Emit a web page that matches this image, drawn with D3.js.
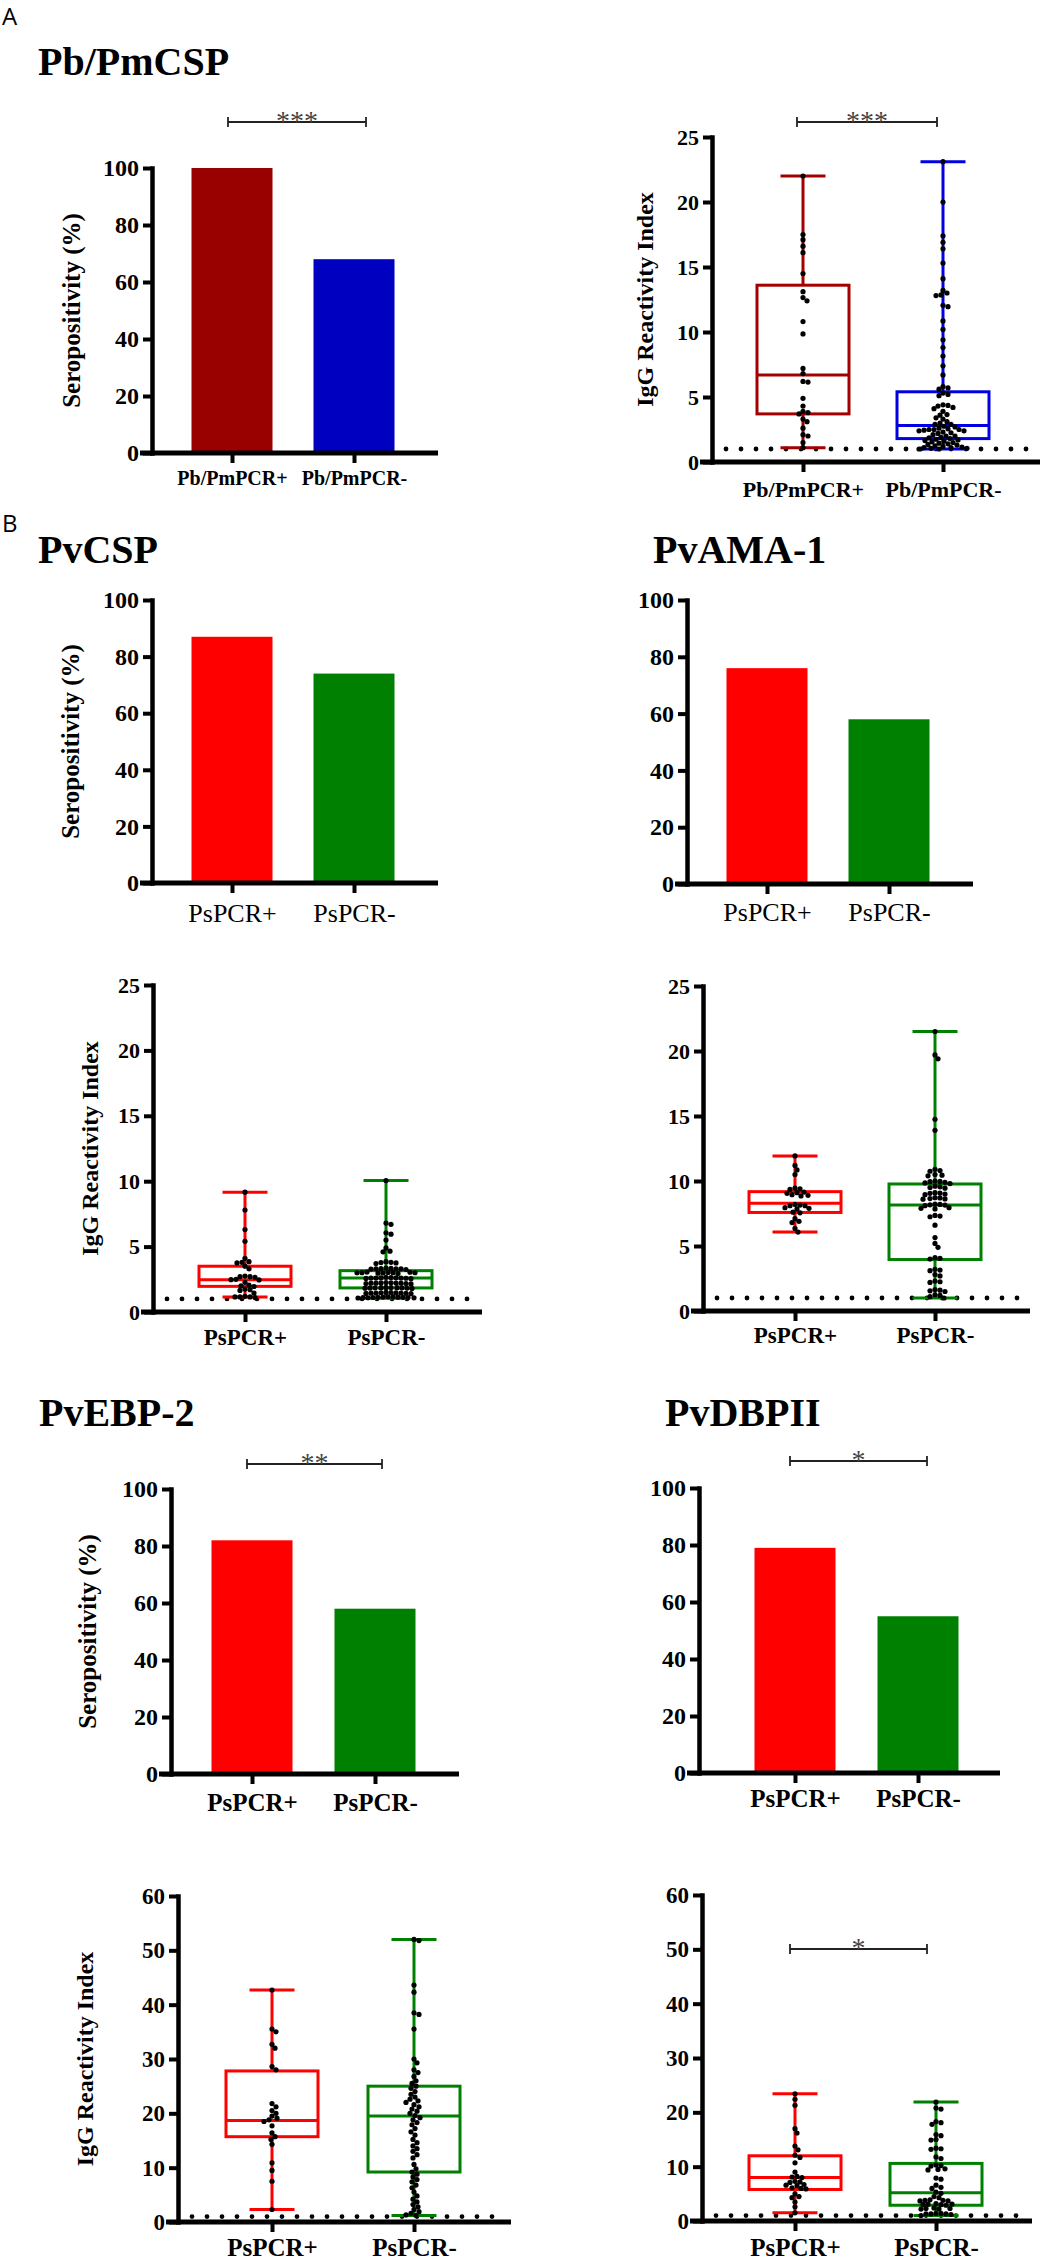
<!DOCTYPE html>
<html>
<head>
<meta charset="utf-8">
<script src="https://cdn.jsdelivr.net/npm/d3@7"></script>
<style>
  html, body { margin: 0; padding: 0; background: #fff; }
  svg { display: block; }
</style>
</head>
<body>
<div id="chart"></div>
<script>
// ---- data ----
var groupsPbPm = ["Pb/PmPCR+", "Pb/PmPCR-"];
var groupsPs = ["PsPCR+", "PsPCR-"];

var seroPbPm = [100, 68];
var seroPvCSP = [87, 74];
var seroPvAMA1 = [76, 58];
var seroPvEBP2 = [82, 58];
var seroPvDBPII = [79, 55];

var ticksSero = [0, 20, 40, 60, 80, 100];
var ticksIgG25 = [0, 5, 10, 15, 20, 25];
var ticksIgG60 = [0, 10, 20, 30, 40, 50, 60];
var cutoff = 1;

// box stats: [min, q1, median, q3, max]
var boxPbPm = [[1.1, 3.7, 6.7, 13.6, 22.0], [1.0, 1.8, 2.8, 5.4, 23.1]];
var boxPvCSP = [[1.15, 1.96, 2.47, 3.5, 9.16], [1.05, 1.84, 2.6, 3.16, 10.05]];
var boxPvAMA1 = [[6.07, 7.58, 8.28, 9.18, 11.93], [1.0, 3.96, 8.15, 9.77, 21.5]];
var boxPvEBP2 = [[2.3, 15.7, 18.7, 27.8, 42.7], [1.2, 9.2, 19.5, 25.0, 52.0]];
var boxPvDBPII = [[1.5, 5.8, 8.0, 12.0, 23.4], [1.0, 2.9, 5.2, 10.6, 21.9]];

// individual reactivity indices
var dotsPbPmPos = [22.0, 17.5, 17.1, 16.6, 16.1, 14.5, 13.1, 12.65, 12.4, 10.8, 9.85, 7.2, 6.8,
  6.2, 6.15, 4.9, 4.3, 3.9, 3.8, 3.7, 3.3, 3.1, 2.6, 2.1, 2.0, 1.5, 1.1];
var dotsPbPmNeg = [23.1, 20.0, 17.4, 16.9, 16.4, 15.3, 14.1, 13.2, 13.0, 12.85, 12.8, 12.05, 11.95,
  10.85, 10.2, 9.4, 8.8, 8.15, 7.4, 6.7, 5.8, 5.7, 5.6, 5.3, 5.2, 5.1, 4.4, 4.35, 4.3, 4.2, 4.1,
  3.9, 3.65, 3.6, 3.4, 3.3, 3.1, 3.0, 2.9, 2.9, 2.75, 2.7, 2.6, 2.55, 2.5, 2.5, 2.5, 2.45, 2.4,
  2.4, 2.3, 2.25, 2.2, 2.1, 2.0, 2.0, 1.9, 1.85, 1.8, 1.75, 1.7, 1.65, 1.6, 1.55, 1.5, 1.45, 1.4,
  1.35, 1.3, 1.25, 1.2, 1.15, 1.1, 1.1, 1.05, 1.05, 1.0, 1.0];
var dotsPvCSPPos = [9.16, 7.8, 6.3, 5.4, 4.1, 3.85, 3.8, 3.75, 3.5, 3.3, 2.75, 2.7, 2.7, 2.65, 2.5,
  2.47, 2.45, 2.27, 2.05, 2.0, 1.95, 1.75, 1.7, 1.65, 1.45, 1.2, 1.15, 1.15, 1.15, 1.1];
var dotsPvCSPNeg = [10.05, 6.8, 6.7, 6.05, 5.95, 5.5, 4.9, 4.65, 4.6, 3.85, 3.8, 3.78, 3.75, 3.7,
  3.35, 3.33, 3.3, 3.3, 3.28, 3.25, 3.3, 3.32, 3.05, 3.02, 3.0, 3.0, 2.98, 2.95, 3.0, 3.04, 2.97,
  3.01, 2.65, 2.62, 2.6, 2.6, 2.58, 2.55, 2.6, 2.63, 2.57, 2.61, 2.25, 2.22, 2.2, 2.2, 2.18, 2.15,
  2.2, 2.23, 2.17, 2.21, 1.88, 1.86, 1.85, 1.84, 1.83, 1.8, 1.85, 1.87, 1.82, 1.86, 1.5, 1.48,
  1.45, 1.45, 1.43, 1.4, 1.46, 1.47, 1.44, 1.42, 1.16, 1.14, 1.12, 1.12, 1.1, 1.1, 1.13, 1.15,
  1.11, 1.09, 1.08, 1.07];
var dotsPvAMA1Pos = [11.93, 11.2, 10.85, 10.5, 9.45, 9.4, 9.35, 9.15, 9.1, 9.05, 8.95, 8.9, 8.85,
  8.2, 8.15, 8.1, 8.1, 7.95, 7.9, 7.85, 7.6, 7.55, 7.1, 6.9, 6.8, 6.35, 6.07];
var dotsPvAMA1Neg = [21.5, 19.7, 19.4, 14.75, 13.9, 10.9, 10.8, 10.75, 10.5, 10.45, 10.4, 10.0,
  9.95, 9.9, 9.97, 9.85, 9.8, 9.6, 9.55, 9.5, 9.45, 9.1, 9.05, 9.0, 8.95, 9.07, 8.7, 8.65, 8.6,
  8.62, 8.72, 8.2, 8.15, 8.1, 8.17, 8.22, 7.9, 7.95, 7.85, 7.3, 7.35, 7.25, 6.6, 5.65, 5.2, 4.9,
  4.1, 4.05, 4.0, 3.2, 3.15, 3.1, 2.8, 2.7, 2.3, 2.25, 2.2, 1.65, 1.6, 1.55, 1.5, 1.25, 1.2, 1.1, 1.0];
var dotsPvEBP2Pos = [42.7, 35.5, 35.0, 32.7, 32.0, 28.6, 28.0, 21.8, 21.2, 20.5, 20.0, 19.5, 19.1,
  18.8, 18.5, 17.7, 16.4, 15.7, 15.2, 14.3, 10.9, 9.5, 7.5, 2.3];
var dotsPvEBP2Neg = [52.0, 51.8, 43.6, 42.3, 38.5, 38.2, 35.5, 30.0, 29.3, 28.0, 27.5, 26.8, 26.0,
  25.5, 25.0, 24.6, 24.0, 23.5, 23.0, 22.6, 22.3, 22.0, 21.6, 21.2, 20.8, 20.4, 20.0, 19.6, 19.2,
  18.8, 18.3, 17.9, 17.2, 16.6, 16.0, 15.2, 14.6, 14.0, 13.5, 13.0, 12.4, 11.8, 10.6, 9.8, 9.2,
  8.8, 8.3, 7.8, 7.4, 6.8, 6.3, 5.5, 4.8, 4.2, 3.7, 3.2, 2.8, 2.3, 1.9, 1.6, 1.3, 1.2];
var dotsPvDBPIIPos = [23.4, 22.4, 21.3, 17.0, 16.2, 13.8, 13.1, 12.1, 11.7, 10.7, 9.0, 8.2, 8.1,
  8.0, 7.3, 7.2, 7.1, 6.7, 6.6, 6.5, 6.1, 6.0, 5.9, 5.0, 4.5, 4.3, 3.5, 2.6, 1.5];
var dotsPvDBPIINeg = [21.9, 20.8, 20.6, 18.3, 18.1, 17.8, 15.9, 15.7, 15.0, 14.9, 13.4, 13.3, 13.2,
  11.8, 11.5, 10.3, 10.2, 10.1, 9.6, 9.5, 9.4, 7.9, 7.7, 6.6, 6.2, 6.0, 5.3, 5.1, 4.5, 4.3, 3.9,
  3.8, 3.8, 3.7, 3.7, 3.2, 3.1, 3.1, 3.0, 3.0, 2.9, 2.4, 2.3, 2.3, 2.2, 2.2, 1.4, 1.4, 1.3, 1.3,
  1.3, 1.2, 1.0];

// ---- drawing ----
var width = 1042, height = 2260;
var serif = "'Liberation Serif', 'Times New Roman', serif";
var dotR = 2.6;

var svg = d3.select("#chart").append("svg")
    .attr("width", width)
    .attr("height", height);

function txt(x, y, s, size, weight, family) {
    return svg.append("text")
        .attr("x", x).attr("y", y)
        .style("font-family", family || serif)
        .style("font-size", size + "px")
        .style("font-weight", weight || "bold")
        .text(s);
}

// panel letters and titles
txt(2, 25, "A", 24, "normal", "'Open Sans', sans-serif");
txt(2, 532, "B", 24, "normal", "'Open Sans', sans-serif");
txt(38, 75, "Pb/PmCSP", 40);
txt(38, 563, "PvCSP", 40);
txt(653, 563, "PvAMA-1", 40);
txt(39, 1426, "PvEBP-2", 40);
txt(665, 1426, "PvDBPII", 40);

function yAxis(p, y, ticks) {
    var g = svg.append("g")
        .attr("transform", "translate(" + p.axisX + ",0)")
        .call(d3.axisLeft(y).tickValues(ticks).tickSize(9).tickSizeOuter(0).tickPadding(4));
    g.select(".domain").attr("stroke-width", 4.5).attr("stroke-linecap", "square");
    g.selectAll(".tick line").attr("stroke-width", 4);
    g.selectAll(".tick text")
        .style("font-family", serif)
        .style("font-size", p.tickFont + "px")
        .style("font-weight", "bold")
        .attr("fill", "#000");
}

function xAxis(p, x, y, groups) {
    svg.append("line")
        .attr("x1", p.axisX - 12).attr("x2", p.xEnd)
        .attr("y1", y(0)).attr("y2", y(0))
        .attr("stroke", "#000").attr("stroke-width", 5);
    var g = svg.append("g")
        .attr("transform", "translate(0," + y(0) + ")")
        .call(d3.axisBottom(x).tickSize(10).tickSizeOuter(0));
    g.select(".domain").remove();
    g.selectAll(".tick line").attr("stroke-width", 4);
    g.selectAll(".tick text")
        .attr("y", p.labelY - y(0)).attr("dy", 0)
        .style("font-family", serif)
        .style("font-size", p.labelFont + "px")
        .style("font-weight", p.labelWeight)
        .attr("fill", "#000");
}

function yTitle(p, y, s) {
    var cy = (y.range()[0] + y.range()[1]) / 2;
    svg.append("text")
        .attr("transform", "translate(" + p.yTitleX + "," + cy + ") rotate(-90)")
        .attr("text-anchor", "middle")
        .style("font-family", serif)
        .style("font-size", p.yTitleFont + "px")
        .style("font-weight", "bold")
        .text(s);
}

function bracket(b) {
    var g = svg.append("g").attr("stroke", "#222").attr("stroke-width", 1.8);
    g.append("line").attr("x1", b.x1).attr("x2", b.x2).attr("y1", b.y).attr("y2", b.y);
    g.append("line").attr("x1", b.x1).attr("x2", b.x1).attr("y1", b.y - 5).attr("y2", b.y + 5);
    g.append("line").attr("x1", b.x2).attr("x2", b.x2).attr("y1", b.y - 5).attr("y2", b.y + 5);
    svg.append("text")
        .attr("x", (b.x1 + b.x2) / 2).attr("y", b.y + 8)
        .attr("text-anchor", "middle")
        .style("font-family", serif)
        .style("font-size", "28px")
        .attr("fill", "#444")
        .text(b.text);
}

function barChart(p) {
    var y = d3.scaleLinear().domain([0, 100]).range([p.yBot, p.yTop]);
    var x = d3.scalePoint().domain(p.groups).range(p.centers);

    svg.append("g").selectAll("rect")
        .data(p.values)
        .enter().append("rect")
        .attr("x", function(d, i) { return x(p.groups[i]) - p.barW / 2; })
        .attr("y", function(d) { return y(d); })
        .attr("width", p.barW)
        .attr("height", function(d) { return y(0) - y(d); })
        .attr("fill", function(d, i) { return p.colors[i]; });

    yAxis(p, y, ticksSero);
    xAxis(p, x, y, p.groups);
    if (p.yTitle) yTitle(p, y, p.yTitle);
    if (p.bracket) bracket(p.bracket);
}

// simple deterministic beeswarm: nearest free horizontal slot
function swarm(vals, y, cx, r) {
    var pts = vals.map(function(v) { return { v: v, y: y(v) }; })
        .sort(function(a, b) { return a.y - b.y; });
    var placed = [];
    var minD = 2 * r * 0.9;
    pts.forEach(function(p) {
        for (var k = 0; k < 400; k++) {
            var off = (k % 2 ? 1 : -1) * Math.ceil(k / 2);
            var px = cx + off;
            var ok = placed.every(function(q) {
                var dx = q.x - px, dy = q.y - p.y;
                return dx * dx + dy * dy >= minD * minD;
            });
            if (ok) { p.x = px; break; }
        }
        placed.push(p);
    });
    return placed;
}

function boxChart(p) {
    var y = d3.scaleLinear().domain([0, p.max]).range([p.yBot, p.yTop]);
    var x = d3.scalePoint().domain(p.groups).range(p.centers);
    var hw = 46, cap = 22.5;

    // positivity cut-off
    svg.append("line")
        .attr("x1", p.axisX + 14).attr("x2", p.xEnd - 4)
        .attr("y1", y(cutoff)).attr("y2", y(cutoff))
        .attr("stroke", "#000").attr("stroke-width", 4.8)
        .attr("stroke-linecap", "round")
        .attr("stroke-dasharray", "0 15");

    p.stats.forEach(function(s, i) {
        var cx = x(p.groups[i]);
        var g = svg.append("g")
            .attr("stroke", p.colors[i]).attr("stroke-width", 3).attr("fill", "none");
        g.append("line").attr("x1", cx).attr("x2", cx).attr("y1", y(s[0])).attr("y2", y(s[1]));
        g.append("line").attr("x1", cx).attr("x2", cx).attr("y1", y(s[3])).attr("y2", y(s[4]));
        g.append("line").attr("x1", cx - cap).attr("x2", cx + cap).attr("y1", y(s[0])).attr("y2", y(s[0]));
        g.append("line").attr("x1", cx - cap).attr("x2", cx + cap).attr("y1", y(s[4])).attr("y2", y(s[4]));
        g.append("rect")
            .attr("x", cx - hw).attr("width", 2 * hw)
            .attr("y", y(s[3])).attr("height", y(s[1]) - y(s[3]));
        g.append("line").attr("x1", cx - hw).attr("x2", cx + hw).attr("y1", y(s[2])).attr("y2", y(s[2]));

        svg.append("g").selectAll("circle")
            .data(swarm(p.dots[i], y, cx, dotR))
            .enter().append("circle")
            .attr("cx", function(d) { return d.x; })
            .attr("cy", function(d) { return d.y; })
            .attr("r", dotR)
            .attr("fill", "#000");
    });

    yAxis(p, y, p.ticks);
    xAxis(p, x, y, p.groups);
    if (p.yTitle) yTitle(p, y, p.yTitle);
    if (p.bracket) bracket(p.bracket);
}

// ---- panel A ----
barChart({
    axisX: 152, yTop: 168, yBot: 453, centers: [232, 354], xEnd: 438, barW: 81,
    groups: groupsPbPm, values: seroPbPm, colors: ["#990000", "#0000C0"],
    labelY: 485, labelFont: 20, labelWeight: "bold", tickFont: 24,
    yTitle: "Seropositivity (%)", yTitleX: 80, yTitleFont: 25,
    bracket: { y: 122, x1: 228, x2: 366, text: "***" }
});
boxChart({
    axisX: 712, yTop: 137, yBot: 462, max: 25, ticks: ticksIgG25,
    centers: [803, 943], xEnd: 1040,
    groups: groupsPbPm, stats: boxPbPm, dots: [dotsPbPmPos, dotsPbPmNeg],
    colors: ["#A30000", "#0000E0"],
    labelY: 497, labelFont: 22, labelWeight: "bold", tickFont: 22,
    yTitle: "IgG Reactivity Index", yTitleX: 653, yTitleFont: 24,
    bracket: { y: 122, x1: 797, x2: 937, text: "***" }
});

// ---- panel B ----
var red = "#FF0000", green = "#008000";

barChart({
    axisX: 152, yTop: 600, yBot: 883, centers: [232, 354], xEnd: 438, barW: 81,
    groups: groupsPs, values: seroPvCSP, colors: [red, green],
    labelY: 922, labelFont: 26, labelWeight: "normal", tickFont: 24,
    yTitle: "Seropositivity (%)", yTitleX: 79, yTitleFont: 25
});
barChart({
    axisX: 687, yTop: 600, yBot: 884, centers: [767, 889], xEnd: 973, barW: 81,
    groups: groupsPs, values: seroPvAMA1, colors: [red, green],
    labelY: 921, labelFont: 26, labelWeight: "normal", tickFont: 24
});
boxChart({
    axisX: 153, yTop: 985, yBot: 1312, max: 25, ticks: ticksIgG25,
    centers: [245, 386], xEnd: 482,
    groups: groupsPs, stats: boxPvCSP, dots: [dotsPvCSPPos, dotsPvCSPNeg],
    colors: [red, green],
    labelY: 1345, labelFont: 23, labelWeight: "bold", tickFont: 22,
    yTitle: "IgG Reactivity Index", yTitleX: 98, yTitleFont: 24
});
boxChart({
    axisX: 703, yTop: 986, yBot: 1311, max: 25, ticks: ticksIgG25,
    centers: [795, 935], xEnd: 1030,
    groups: groupsPs, stats: boxPvAMA1, dots: [dotsPvAMA1Pos, dotsPvAMA1Neg],
    colors: [red, green],
    labelY: 1343, labelFont: 23, labelWeight: "bold", tickFont: 22
});
barChart({
    axisX: 171, yTop: 1489, yBot: 1774, centers: [252, 375], xEnd: 459, barW: 81,
    groups: groupsPs, values: seroPvEBP2, colors: [red, green],
    labelY: 1811, labelFont: 25, labelWeight: "bold", tickFont: 24,
    yTitle: "Seropositivity (%)", yTitleX: 96, yTitleFont: 25,
    bracket: { y: 1464, x1: 247, x2: 382, text: "**" }
});
barChart({
    axisX: 699, yTop: 1488, yBot: 1773, centers: [795, 918], xEnd: 1000, barW: 81,
    groups: groupsPs, values: seroPvDBPII, colors: [red, green],
    labelY: 1807, labelFont: 25, labelWeight: "bold", tickFont: 24,
    bracket: { y: 1461, x1: 790, x2: 927, text: "*" }
});
boxChart({
    axisX: 178, yTop: 1896, yBot: 2222, max: 60, ticks: ticksIgG60,
    centers: [272, 414], xEnd: 511,
    groups: groupsPs, stats: boxPvEBP2, dots: [dotsPvEBP2Pos, dotsPvEBP2Neg],
    colors: [red, green],
    labelY: 2256, labelFont: 25, labelWeight: "bold", tickFont: 23,
    yTitle: "IgG Reactivity Index", yTitleX: 93, yTitleFont: 24
});
boxChart({
    axisX: 702, yTop: 1895, yBot: 2221, max: 60, ticks: ticksIgG60,
    centers: [795, 936], xEnd: 1032,
    groups: groupsPs, stats: boxPvDBPII, dots: [dotsPvDBPIIPos, dotsPvDBPIINeg],
    colors: [red, green],
    labelY: 2256, labelFont: 25, labelWeight: "bold", tickFont: 23,
    bracket: { y: 1949, x1: 790, x2: 927, text: "*" }
});
</script>
</body>
</html>
